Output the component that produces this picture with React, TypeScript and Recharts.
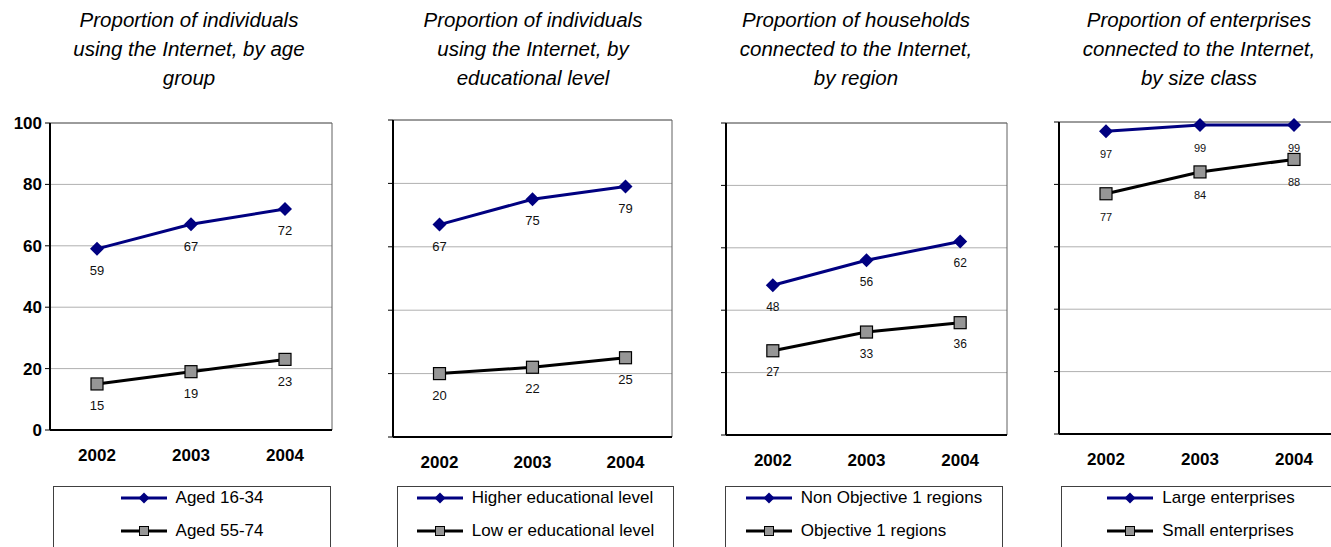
import { CartesianGrid, LabelList, Line, LineChart, XAxis, YAxis } from "recharts";

const years = ["2002", "2003", "2004"];
const yTicks = [0, 20, 40, 60, 80, 100];

// individuals by age group
const aged16to34 = [59, 67, 72];
const aged55to74 = [15, 19, 23];
// individuals by educational level
const higherEducation = [67, 75, 79];
const lowerEducation = [20, 22, 25];
// households by region
const nonObjective1 = [48, 56, 62];
const objective1 = [27, 33, 36];
// enterprises by size class
const largeEnterprises = [97, 99, 99];
const smallEnterprises = [77, 84, 88];

const FONT = "'Liberation Sans', Arial, sans-serif";
const BLUE = "#000080";
const GREY_FILL = "#969696";

type Panel = {
  title: string;
  titleX: number;
  names: [string, string];
  top: number[];
  bottom: number[];
  plot: { left: number; top: number; width: number; height: number };
  yLabels: boolean;
  labelSize: number;
  labelOffset: number;
  legend: { left: number; width: number };
};

const panels: Panel[] = [
  {
    title: "Proportion of individuals\nusing the Internet, by age\ngroup",
    titleX: 189,
    names: ["Aged 16-34", "Aged 55-74"],
    top: aged16to34,
    bottom: aged55to74,
    plot: { left: 50, top: 123, width: 282, height: 307 },
    yLabels: true,
    labelSize: 13,
    labelOffset: 17,
    legend: { left: 53, width: 278 },
  },
  {
    title: "Proportion of individuals\nusing the Internet, by\neducational level",
    titleX: 533,
    names: ["Higher educational level", "Low er educational level"],
    top: higherEducation,
    bottom: lowerEducation,
    plot: { left: 393, top: 120, width: 279, height: 317 },
    yLabels: false,
    labelSize: 13,
    labelOffset: 17,
    legend: { left: 397, width: 277 },
  },
  {
    title: "Proportion of households\nconnected to the Internet,\nby region",
    titleX: 856,
    names: ["Non Objective 1 regions", "Objective 1 regions"],
    top: nonObjective1,
    bottom: objective1,
    plot: { left: 726, top: 123, width: 281, height: 312 },
    yLabels: false,
    labelSize: 12,
    labelOffset: 17,
    legend: { left: 725, width: 278 },
  },
  {
    title: "Proportion of enterprises\nconnected to the Internet,\nby size class",
    titleX: 1199,
    names: ["Large enterprises", "Small enterprises"],
    top: largeEnterprises,
    bottom: smallEnterprises,
    plot: { left: 1059, top: 122, width: 282, height: 312 },
    yLabels: false,
    labelSize: 11,
    labelOffset: 19,
    legend: { left: 1061, width: 280 },
  },
];

const Diamond = (props: any) => {
  const { cx, cy, index } = props;
  const r = 7;
  return (
    <polygon
      key={`d-${index}`}
      points={`${cx},${cy - r} ${cx + r},${cy} ${cx},${cy + r} ${cx - r},${cy}`}
      fill={BLUE}
    />
  );
};

const Square = (props: any) => {
  const { cx, cy, index } = props;
  const s = 12;
  return (
    <rect
      key={`s-${index}`}
      x={cx - s / 2}
      y={cy - s / 2}
      width={s}
      height={s}
      fill={GREY_FILL}
      stroke="#000"
      strokeWidth={1.2}
    />
  );
};

// keeps the tick marks (and grid lines) while leaving the value labels off
const NoTickLabel = () => <g />;

const LegendIcon = ({ kind }: { kind: "diamond" | "square" }) => (
  <svg width={46} height={14} style={{ marginRight: 9, flex: "none" }}>
    <line x1={0} y1={7} x2={46} y2={7} stroke={kind === "diamond" ? BLUE : "#000"} strokeWidth={3} />
    {kind === "diamond" ? (
      <polygon points="23,1.5 28.5,7 23,12.5 17.5,7" fill={BLUE} />
    ) : (
      <rect x={18.5} y={2.5} width={9} height={9} fill={GREY_FILL} stroke="#000" strokeWidth={1} />
    )}
  </svg>
);

const Y_AXIS_W = 50;
const MARGIN_TOP = 10;
const MARGIN_RIGHT = 10;
const X_AXIS_H = 45;

// outer frame: top and right edges of the plotting area
const frameRight = ({ offset }: any) => [offset.left + offset.width];
const frameTop = ({ offset }: any) => [offset.top];

function PanelChart({ p }: { p: Panel }) {
  const data = years.map((year, i) => ({ year, top: p.top[i], bottom: p.bottom[i] }));
  const pad = p.plot.width / 6;
  const width = Y_AXIS_W + p.plot.width + MARGIN_RIGHT;
  const height = MARGIN_TOP + p.plot.height + X_AXIS_H;

  return (
    <>
      <div
        style={{
          position: "absolute",
          left: p.titleX - 170,
          top: 5,
          width: 340,
          textAlign: "center",
          whiteSpace: "pre-line",
          fontStyle: "italic",
          fontSize: 20.5,
          lineHeight: "29px",
          color: "#000",
        }}
      >
        {p.title}
      </div>

      <div style={{ position: "absolute", left: p.plot.left - Y_AXIS_W, top: p.plot.top - MARGIN_TOP }}>
        <LineChart
          width={width}
          height={height}
          data={data}
          margin={{ top: MARGIN_TOP, right: MARGIN_RIGHT, bottom: 0, left: 0 }}
          style={{ fontFamily: FONT }}
        >
          <CartesianGrid vertical={false} stroke="#b0b0b0" strokeWidth={1} />
          <CartesianGrid
            horizontalCoordinatesGenerator={frameTop}
            verticalCoordinatesGenerator={frameRight}
            stroke="#606060"
            strokeWidth={1}
          />
          <XAxis
            dataKey="year"
            padding={{ left: pad, right: pad }}
            height={X_AXIS_H}
            axisLine={{ stroke: "#000", strokeWidth: 2 }}
            tickLine={false}
            tickSize={0}
            tickMargin={19}
            tick={{ fontSize: 17, fontWeight: "bold", fill: "#000" }}
            interval={0}
          />
          <YAxis
            domain={[0, 100]}
            ticks={yTicks}
            interval={0}
            width={Y_AXIS_W}
            axisLine={{ stroke: "#000", strokeWidth: 2 }}
            tickLine={{ stroke: "#000" }}
            tickSize={5}
            tickMargin={3}
            tick={p.yLabels ? { fontSize: 17, fontWeight: "bold", fill: "#000" } : NoTickLabel}
          />
          <Line
            dataKey="top"
            stroke={BLUE}
            strokeWidth={3}
            dot={Diamond}
            activeDot={false}
            isAnimationActive={false}
          >
            <LabelList dataKey="top" position="bottom" offset={p.labelOffset} fontSize={p.labelSize} fill="#111" />
          </Line>
          <Line
            dataKey="bottom"
            stroke="#000"
            strokeWidth={3}
            dot={Square}
            activeDot={false}
            isAnimationActive={false}
          >
            <LabelList dataKey="bottom" position="bottom" offset={p.labelOffset} fontSize={p.labelSize} fill="#111" />
          </Line>
        </LineChart>
      </div>

      <div
        style={{
          position: "absolute",
          left: p.legend.left,
          top: 486,
          width: p.legend.width,
          height: 90,
          boxSizing: "border-box",
          border: "1px solid #404040",
          display: "flex",
          justifyContent: "center",
        }}
      >
        <div style={{ marginTop: -6 }}>
          {p.names.map((name, i) => (
            <div key={name} style={{ height: 33, display: "flex", alignItems: "center", fontSize: 17, color: "#000" }}>
              <LegendIcon kind={i === 0 ? "diamond" : "square"} />
              <span>{name}</span>
            </div>
          ))}
        </div>
      </div>
    </>
  );
}

export default function App() {
  return (
    <div
      style={{
        position: "absolute",
        left: 0,
        top: 0,
        width: 1331,
        height: 547,
        overflow: "hidden",
        background: "#fff",
        fontFamily: FONT,
      }}
    >
      {panels.map((p) => (
        <PanelChart key={p.title} p={p} />
      ))}
    </div>
  );
}
